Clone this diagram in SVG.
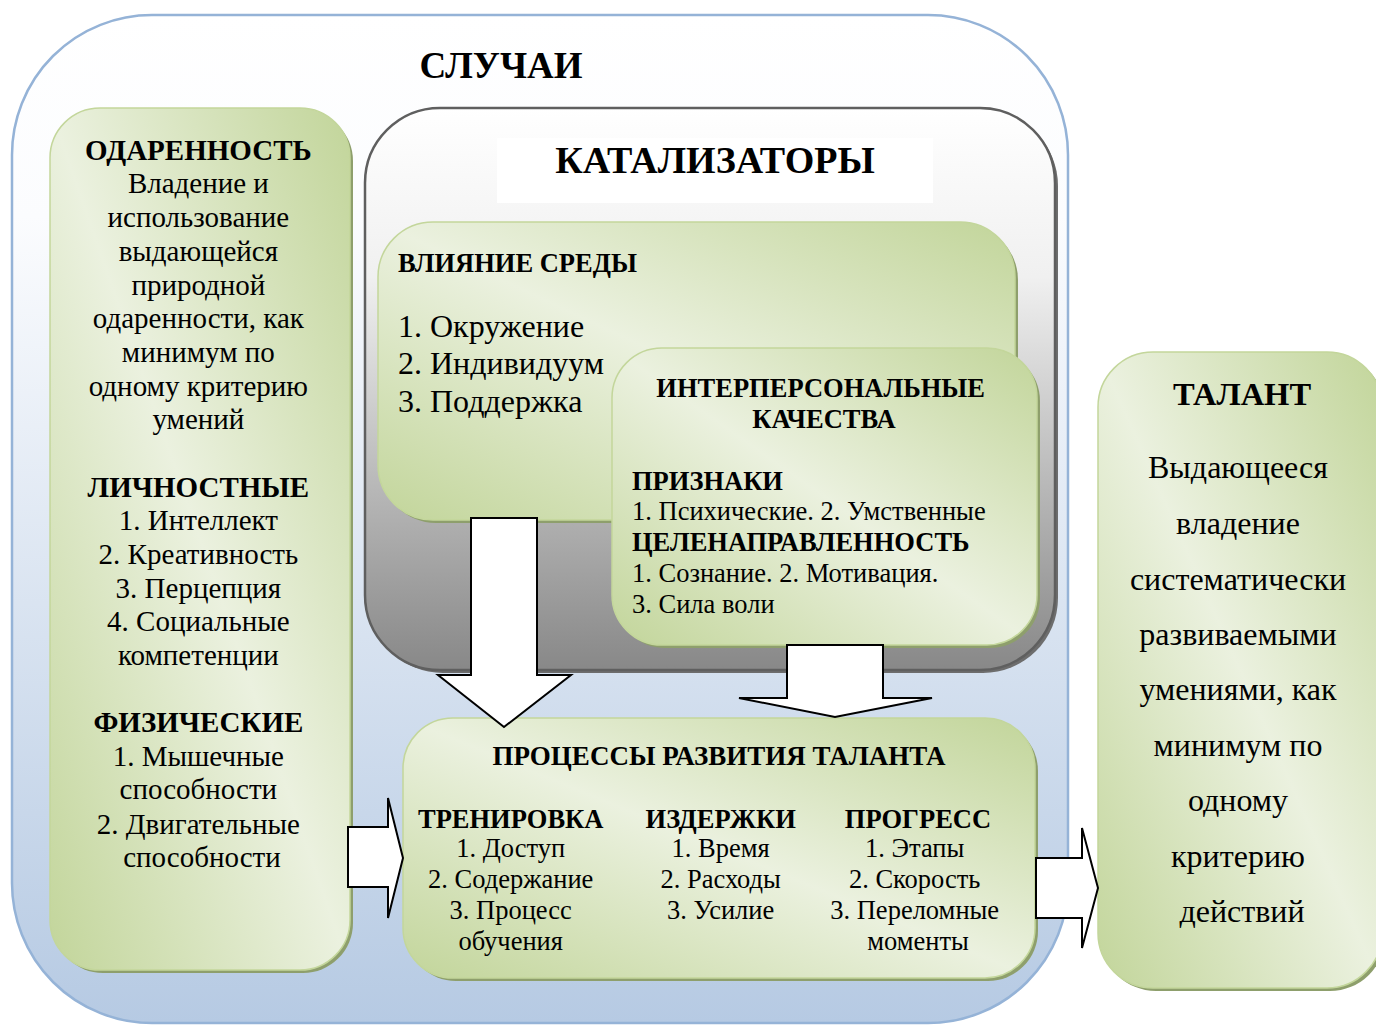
<svg xmlns="http://www.w3.org/2000/svg" width="1376" height="1025" viewBox="0 0 1376 1025">
<defs>
<linearGradient id="gOuter" x1="0" y1="0" x2="0" y2="1">
<stop offset="0" stop-color="#ffffff"/>
<stop offset="0.2" stop-color="#fbfcfe"/>
<stop offset="1" stop-color="#b6cae3"/>
</linearGradient>
<linearGradient id="gGray" x1="0" y1="0" x2="0" y2="1">
<stop offset="0" stop-color="#ffffff"/>
<stop offset="0.3" stop-color="#f0f0f0"/>
<stop offset="0.7" stop-color="#b4b4b4"/>
<stop offset="1" stop-color="#888888"/>
</linearGradient>
<linearGradient id="gGreen" x1="1" y1="0" x2="0" y2="1">
<stop offset="0" stop-color="#c2d59a"/>
<stop offset="0.5" stop-color="#ebf1df"/>
<stop offset="1" stop-color="#c2d59a"/>
</linearGradient>
<style>
.t{font-family:"Liberation Serif","Times New Roman",serif;fill:#000}
.b{font-weight:bold}
.c{text-anchor:middle}
.green{stroke:#c3d69b;stroke-width:1.5}
.gsh{fill:#8e9f6c}
.arrow{fill:#ffffff;stroke:#000;stroke-width:2;stroke-linejoin:miter}
</style>
</defs>
<rect width="1376" height="1025" fill="#ffffff"/>

<g id="cases">
<rect x="12" y="15" width="1056" height="1008" rx="140" ry="140" fill="url(#gOuter)" stroke="#95b3d7" stroke-width="2.5"/>
<text class="t b c" x="501" y="78" font-size="37">СЛУЧАИ</text>
</g>

<g id="giftedness">
<rect x="53" y="111" width="300" height="862" rx="50" ry="50" class="gsh"/>
<rect x="50" y="108" width="300" height="862" rx="50" ry="50" fill="url(#gGreen)" class="green"/>
<text class="t c" font-size="29">
<tspan class="b" x="202" y="160">ОДАРЕННОСТЬ</tspan>
<tspan x="202" y="193">Владение и</tspan>
<tspan x="202" y="227">использование</tspan>
<tspan x="202" y="261">выдающейся</tspan>
<tspan x="202" y="295">природной</tspan>
<tspan x="202" y="328">одаренности, как</tspan>
<tspan x="202" y="362">минимум по</tspan>
<tspan x="202" y="396">одному критерию</tspan>
<tspan x="202" y="429">умений</tspan>
<tspan class="b" x="202" y="497">ЛИЧНОСТНЫЕ</tspan>
<tspan x="202" y="530">1. Интеллект</tspan>
<tspan x="202" y="564">2. Креативность</tspan>
<tspan x="202" y="598">3. Перцепция</tspan>
<tspan x="202" y="631">4. Социальные</tspan>
<tspan x="202" y="665">компетенции</tspan>
<tspan class="b" x="202" y="732">ФИЗИЧЕСКИЕ</tspan>
<tspan x="202" y="766">1. Мышечные</tspan>
<tspan x="202" y="799">способности</tspan>
<tspan x="202" y="834">2. Двигательные</tspan>
<tspan x="202" y="867">способности</tspan>
</text>
</g>

<g id="catalysts">
<rect x="368" y="111" width="690" height="562" rx="75" ry="75" fill="#6d6d6d"/>
<rect x="365" y="108" width="690" height="562" rx="75" ry="75" fill="url(#gGray)" stroke="#5f5f5f" stroke-width="2.5"/>
<rect x="497" y="138" width="436" height="65" fill="#ffffff"/>
<text class="t b c" x="715" y="173" font-size="38">КАТАЛИЗАТОРЫ</text>
</g>

<g id="environment">
<rect x="381" y="225" width="637" height="298" rx="55" ry="55" class="gsh"/>
<rect x="378" y="222" width="637" height="298" rx="55" ry="55" fill="url(#gGreen)" class="green"/>
<text class="t b" x="398" y="272" font-size="26.5">ВЛИЯНИЕ СРЕДЫ</text>
<text class="t" font-size="32">
<tspan x="398" y="337">1. Окружение</tspan>
<tspan x="398" y="374">2. Индивидуум</tspan>
<tspan x="398" y="412">3. Поддержка</tspan>
</text>
</g>

<g id="interpersonal">
<rect x="615" y="351" width="425" height="297" rx="50" ry="50" class="gsh"/>
<rect x="612" y="348" width="425" height="297" rx="50" ry="50" fill="url(#gGreen)" class="green"/>
<text class="t b c" font-size="26.5">
<tspan x="824" y="397">ИНТЕРПЕРСОНАЛЬНЫЕ</tspan>
<tspan x="824" y="428">КАЧЕСТВА</tspan>
</text>
<text class="t" font-size="26.5">
<tspan class="b" x="632" y="490">ПРИЗНАКИ</tspan>
<tspan x="632" y="520">1. Психические. 2. Умственные</tspan>
<tspan class="b" x="632" y="551">ЦЕЛЕНАПРАВЛЕННОСТЬ</tspan>
<tspan x="632" y="582">1. Сознание. 2. Мотивация.</tspan>
<tspan x="632" y="613">3. Сила воли</tspan>
</text>
</g>

<g id="processes">
<rect x="406" y="721" width="632" height="260" rx="50" ry="50" class="gsh"/>
<rect x="403" y="718" width="632" height="260" rx="50" ry="50" fill="url(#gGreen)" class="green"/>
<text class="t b c" x="719" y="765" font-size="27">ПРОЦЕССЫ РАЗВИТИЯ ТАЛАНТА</text>
<text class="t b c" font-size="26.5">
<tspan x="514" y="828">ТРЕНИРОВКА</tspan>
<tspan x="724" y="828">ИЗДЕРЖКИ</tspan>
<tspan x="918" y="828">ПРОГРЕСС</tspan>
</text>
<text class="t c" font-size="26.5">
<tspan x="514" y="857">1. Доступ</tspan>
<tspan x="514" y="888">2. Содержание</tspan>
<tspan x="514" y="919">3. Процесс</tspan>
<tspan x="514" y="950">обучения</tspan>
<tspan x="724" y="857">1. Время</tspan>
<tspan x="724" y="888">2. Расходы</tspan>
<tspan x="724" y="919">3. Усилие</tspan>
<tspan x="918" y="857">1. Этапы</tspan>
<tspan x="918" y="888">2. Скорость</tspan>
<tspan x="918" y="919">3. Переломные</tspan>
<tspan x="918" y="950">моменты</tspan>
</text>
</g>

<g id="talent">
<rect x="1101" y="355" width="284" height="636" rx="55" ry="55" class="gsh"/>
<rect x="1098" y="352" width="284" height="636" rx="55" ry="55" fill="url(#gGreen)" class="green"/>
<text class="t b c" x="1242" y="405" font-size="32.5">ТАЛАНТ</text>
<text class="t c" font-size="32">
<tspan x="1242" y="478">Выдающееся</tspan>
<tspan x="1242" y="534">владение</tspan>
<tspan x="1242" y="590">систематически</tspan>
<tspan x="1242" y="645">развиваемыми</tspan>
<tspan x="1242" y="700">умениями, как</tspan>
<tspan x="1242" y="756">минимум по</tspan>
<tspan x="1242" y="811">одному</tspan>
<tspan x="1242" y="867">критерию</tspan>
<tspan x="1242" y="922">действий</tspan>
</text>
</g>

<g id="connectors">
<path class="arrow" d="M471,518 L537,518 L537,675 L571,675 L504,727 L438,675 L471,675 Z"/>
<path class="arrow" d="M787,645 L883,645 L883,698 L932,698 L835,717 L739,698 L787,698 Z"/>
<path class="arrow" d="M348,827 L388,827 L388,798 L403,858 L388,918 L388,887 L348,887 Z"/>
<path class="arrow" d="M1036,858 L1082,858 L1082,828 L1098,888 L1082,948 L1082,918 L1036,918 Z"/>
</g>
</svg>
